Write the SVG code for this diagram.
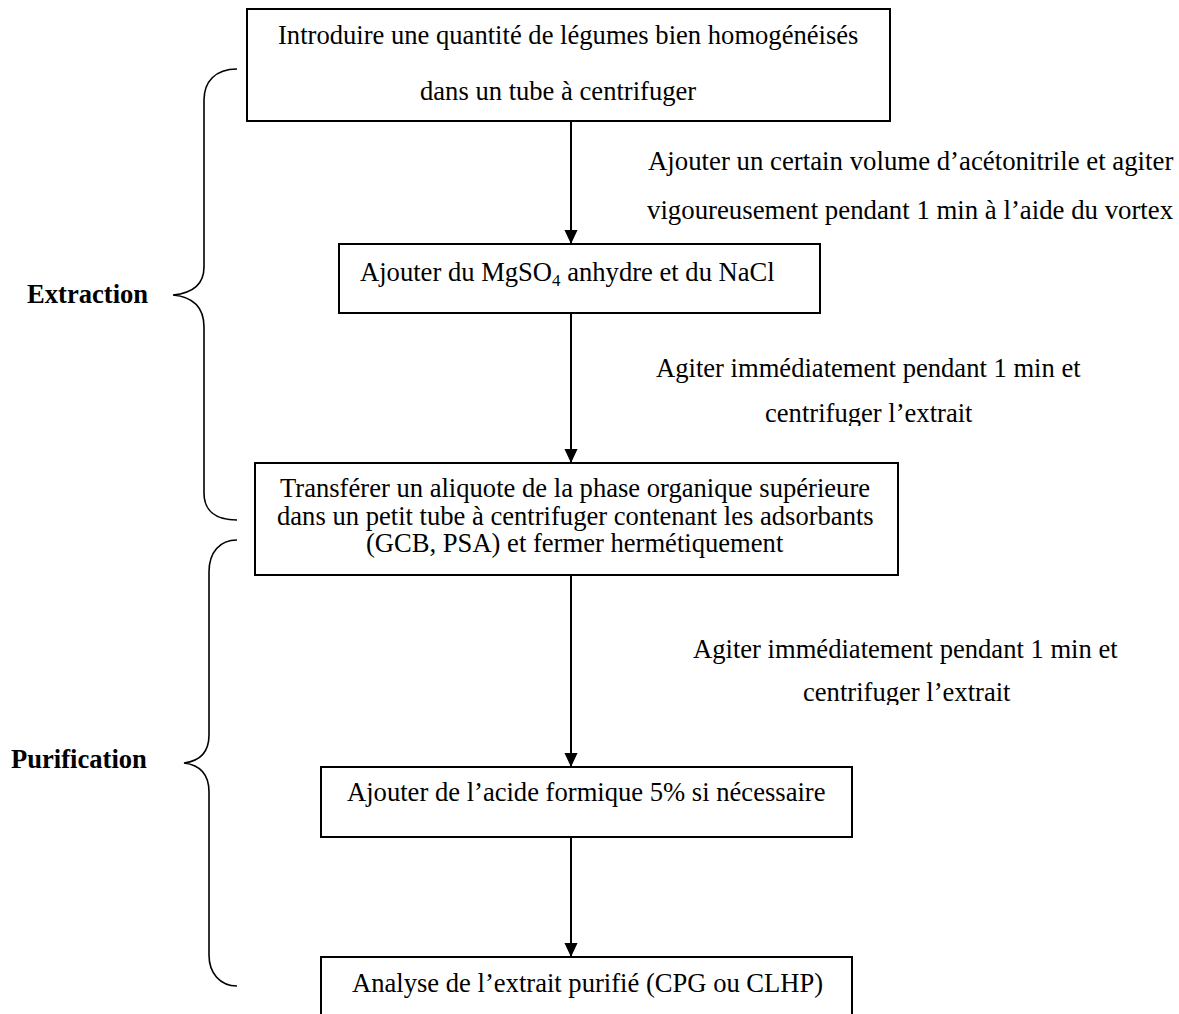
<svg xmlns="http://www.w3.org/2000/svg" width="1179" height="1014" viewBox="0 0 1179 1014">
<style>
.box{fill:#fff;stroke:#000;stroke-width:2}
.t{font-family:"Liberation Serif","Times New Roman",serif;font-size:26.6px;fill:#000}
.b{font-family:"Liberation Serif","Times New Roman",serif;font-size:26.6px;font-weight:bold;fill:#000}
.c{fill:none;stroke:#000;stroke-width:2}
.br{fill:none;stroke:#000;stroke-width:1.6}
</style>
<defs>
<marker id="ah" markerUnits="userSpaceOnUse" markerWidth="14" markerHeight="15" refX="15" refY="7" orient="auto" viewBox="0 0 15 14">
<path d="M0,0 L15,7 L0,14 Z" fill="#000"/>
</marker>
<clipPath id="cl2"><rect x="600" y="330" width="579" height="96"/></clipPath>
<clipPath id="cl3"><rect x="600" y="610" width="579" height="95"/></clipPath>
</defs>
<rect width="1179" height="1014" fill="#fff"/>
<g id="connectors">
<line class="c" x1="571" y1="121" x2="571" y2="244" marker-end="url(#ah)"/>
<line class="c" x1="571" y1="313" x2="571" y2="463" marker-end="url(#ah)"/>
<line class="c" x1="571" y1="575" x2="571" y2="767" marker-end="url(#ah)"/>
<line class="c" x1="571" y1="837" x2="571" y2="957" marker-end="url(#ah)"/>
</g>
<g id="n1">
<rect class="box" x="247" y="9" width="643" height="112"/>
<text class="t" x="278" y="44">Introduire une quantité de légumes bien homogénéisés</text>
<text class="t" x="420" y="100">dans un tube à centrifuger</text>
</g>
<g id="l1">
<text class="t" x="648" y="170" style="font-size:26.8px">Ajouter un certain volume d’acétonitrile et agiter</text>
<text class="t" x="647" y="219" style="font-size:26.8px">vigoureusement pendant 1 min à l’aide du vortex</text>
</g>
<g id="n2">
<rect class="box" x="339" y="244" width="481" height="69"/>
<text class="t" x="360" y="281">Ajouter du MgSO<tspan font-size="17" dy="5">4</tspan><tspan dy="-5"> anhydre et du NaCl</tspan></text>
</g>
<g id="l2" clip-path="url(#cl2)">
<text class="t" x="656" y="377">Agiter immédiatement pendant 1 min et</text>
<text class="t" x="765" y="422">centrifuger l’extrait</text>
</g>
<g id="n3">
<rect class="box" x="255" y="463" width="643" height="112"/>
<text class="t" x="280" y="497">Transférer un aliquote de la phase organique supérieure</text>
<text class="t" x="277" y="525">dans un petit tube à centrifuger contenant les adsorbants</text>
<text class="t" x="366" y="552">(GCB, PSA) et fermer hermétiquement</text>
</g>
<g id="l3" clip-path="url(#cl3)">
<text class="t" x="693" y="658">Agiter immédiatement pendant 1 min et</text>
<text class="t" x="803" y="701">centrifuger l’extrait</text>
</g>
<g id="n4">
<rect class="box" x="321" y="767" width="531" height="70"/>
<text class="t" x="347" y="801">Ajouter de l’acide formique 5% si nécessaire</text>
</g>
<g id="n5">
<rect class="box" x="321" y="957" width="531" height="70"/>
<text class="t" x="352" y="992">Analyse de l’extrait purifié (CPG ou CLHP)</text>
</g>
<g id="extraction">
<path class="br" d="M237,69 C215,69 204,82 204,100 L204,267 C204,283 194,293 173,295 C194,297 204,308 204,327 L204,493 C204,510 215,520 237,520"/>
<text class="b" x="27" y="303">Extraction</text>
</g>
<g id="purification">
<path class="br" d="M237,540 C220,540 209,552 209,572 L209,735 C209,752 200,761 184,763 C200,765 209,774 209,792 L209,955 C209,973 220,986 237,986"/>
<text class="b" x="11" y="768">Purification</text>
</g>
</svg>
